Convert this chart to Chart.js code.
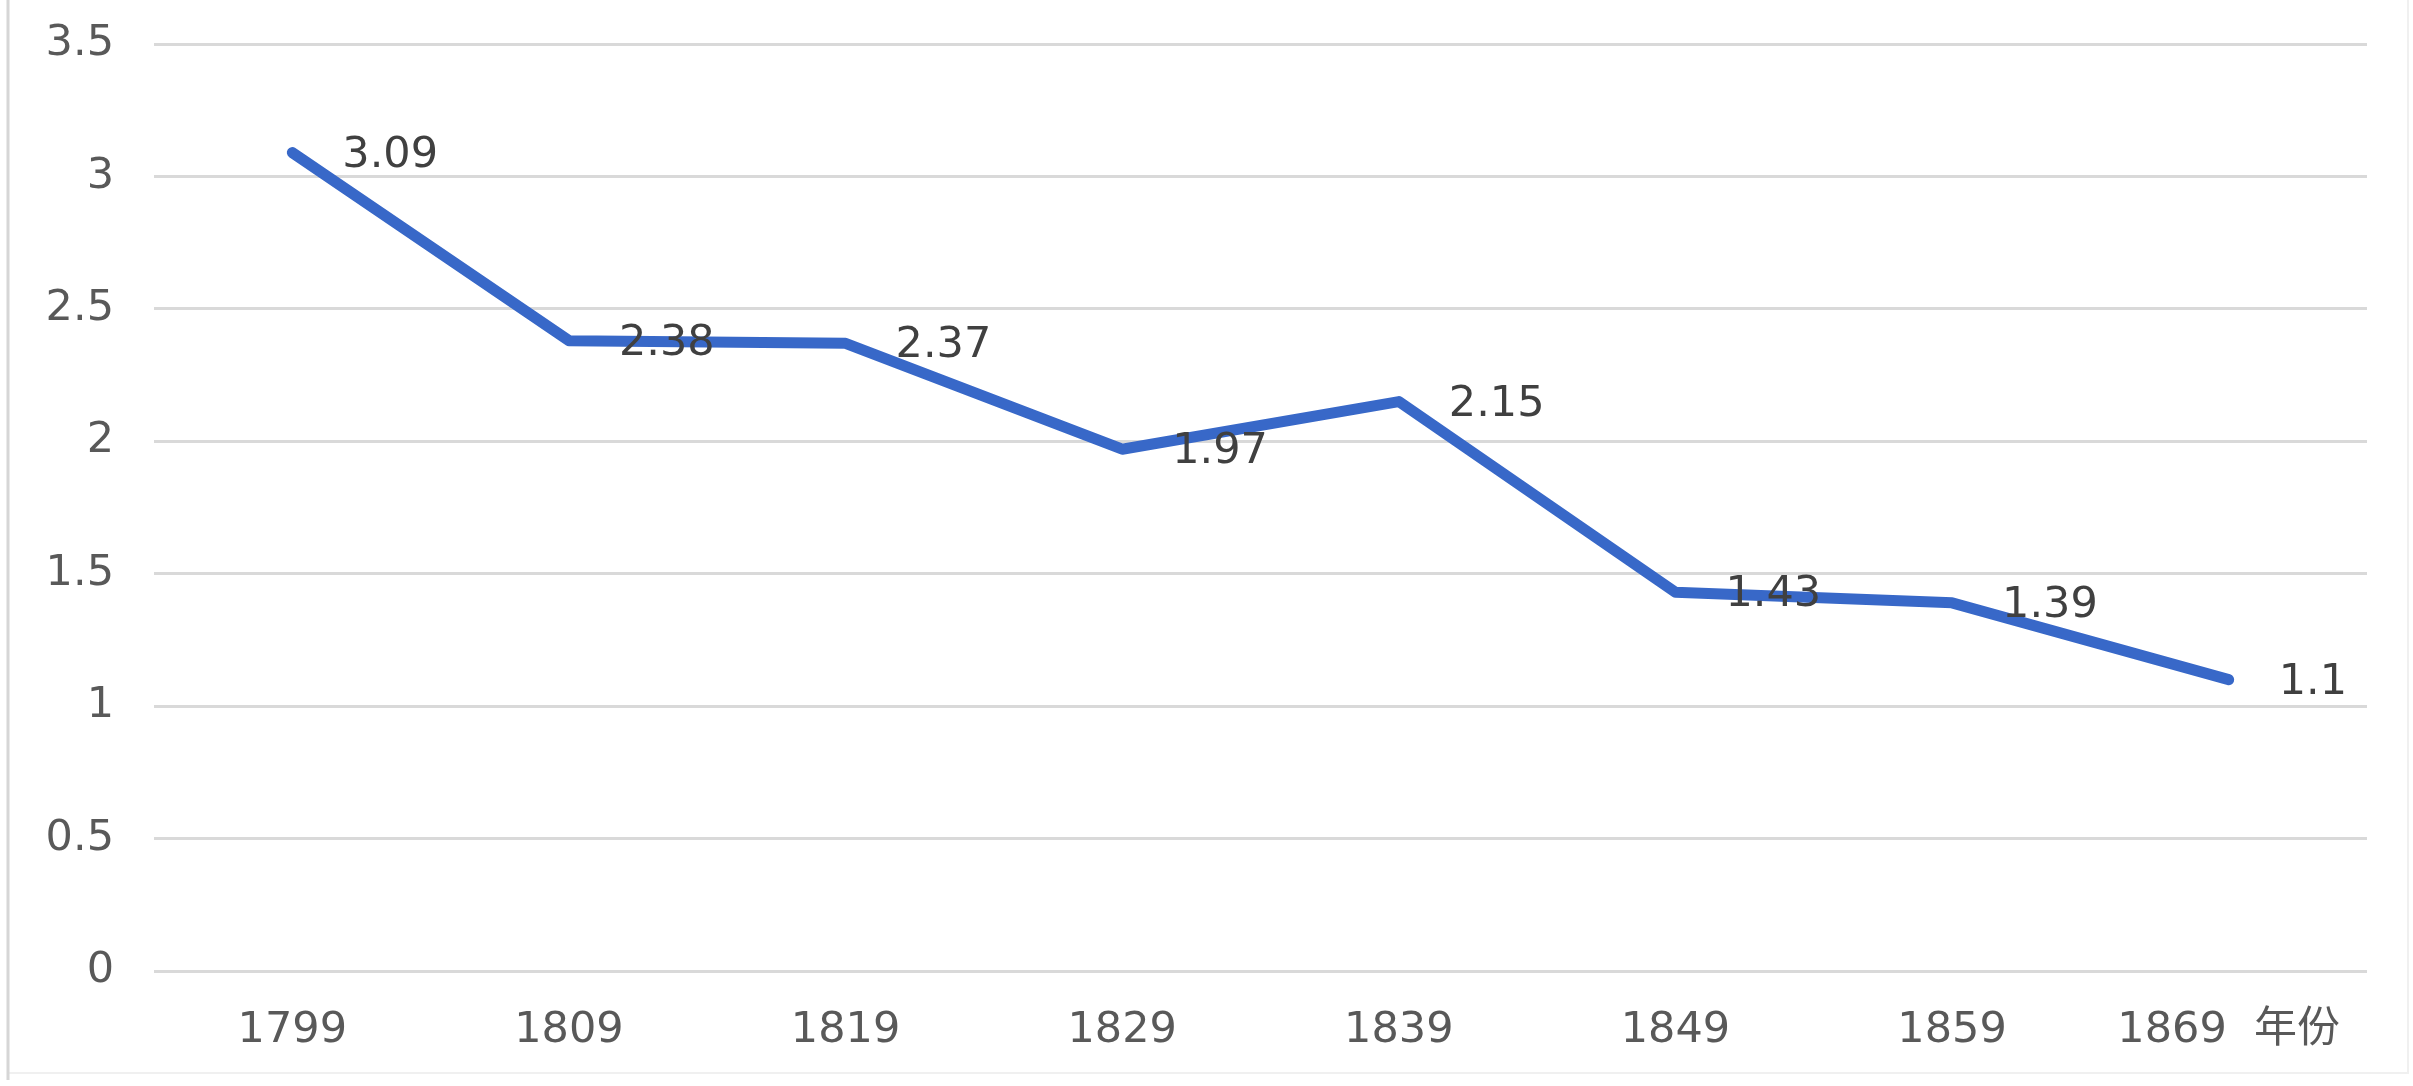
<!DOCTYPE html>
<html>
<head>
<meta charset="utf-8">
<script src="https://cdn.jsdelivr.net/npm/chart.js@4"></script>
<style>
  html, body { margin: 0; padding: 0; background: #fff; }
  #wrap { position: relative; width: 2413px; height: 1086px; }
</style>
</head>
<body>
<div id="wrap"><canvas id="myLineChart"></canvas></div>
<script>
// data
const years = ['1799', '1809', '1819', '1829', '1839', '1849', '1859', '1869  年份'];
const values = [3.09, 2.38, 2.37, 1.97, 2.15, 1.43, 1.39, 1.1];
const valueLabels = ['3.09', '2.38', '2.37', '1.97', '2.15', '1.43', '1.39', '1.1'];
const yTicks = ['0', '0.5', '1', '1.5', '2', '2.5', '3', '3.5'];

const FONT = '"DejaVu Sans", "Noto Sans CJK SC", sans-serif';

// value labels to the right of each point, like Excel's "right" position
const pointLabels = {
    id: 'pointLabels',
    afterDatasetsDraw(chart) {
        const ctx = chart.ctx;
        const meta = chart.getDatasetMeta(0);
        ctx.save();
        ctx.font = '43px ' + FONT;
        ctx.fillStyle = '#404040';
        ctx.textAlign = 'left';
        ctx.textBaseline = 'middle';
        meta.data.forEach((pt, i) => {
            ctx.fillText(valueLabels[i], pt.x + 50, pt.y + 3);
        });
        ctx.restore();
    }
};

// light frame around the chart
const frame = {
    id: 'frame',
    beforeDraw(chart) {
        const ctx = chart.ctx;
        ctx.save();
        ctx.strokeStyle = '#f0f0f0';
        ctx.lineWidth = 2;
        ctx.strokeRect(8, -4, 2400, 1077);
        ctx.strokeStyle = '#d6d6d6';
        ctx.lineWidth = 3;
        ctx.beginPath();
        ctx.moveTo(8, 0);
        ctx.lineTo(8, 1080);
        ctx.stroke();
        ctx.restore();
    }
};

const ctx = document.getElementById('myLineChart').getContext('2d');
const myChart = new Chart(ctx, {
    type: 'line',
    data: {
        labels: years,
        datasets: [{
            data: values,
            borderColor: '#3868c8',
            borderWidth: 11,
            borderCapStyle: 'round',
            borderJoinStyle: 'round',
            pointRadius: 0,
            tension: 0
        }]
    },
    options: {
        responsive: true,
        maintainAspectRatio: false,
        animation: false,
        layout: { padding: { top: 44, right: 46, left: 0, bottom: 0 } },
        plugins: {
            legend: { display: false },
            tooltip: { enabled: false }
        },
        scales: {
            x: {
                offset: true,
                grid: { display: false },
                border: { display: false },
                ticks: {
                    color: '#595959',
                    font: { family: FONT, size: 43 },
                    padding: 26,
                    maxRotation: 0,
                    autoSkip: false
                },
                afterFit: (scale) => { scale.height = 115; }
            },
            y: {
                min: 0,
                max: 3.5,
                grid: { color: '#d9d9d9', lineWidth: 3, drawTicks: false },
                border: { display: false },
                ticks: {
                    stepSize: 0.5,
                    color: '#595959',
                    font: { family: FONT, size: 43 },
                    padding: 40,
                    callback: (v, i) => yTicks[i]
                },
                afterFit: (scale) => {
                    scale.width = 154;
                    scale.paddingTop = 0;
                    scale.paddingBottom = 0;
                }
            }
        }
    },
    plugins: [frame, pointLabels]
});
</script>
</body>
</html>
